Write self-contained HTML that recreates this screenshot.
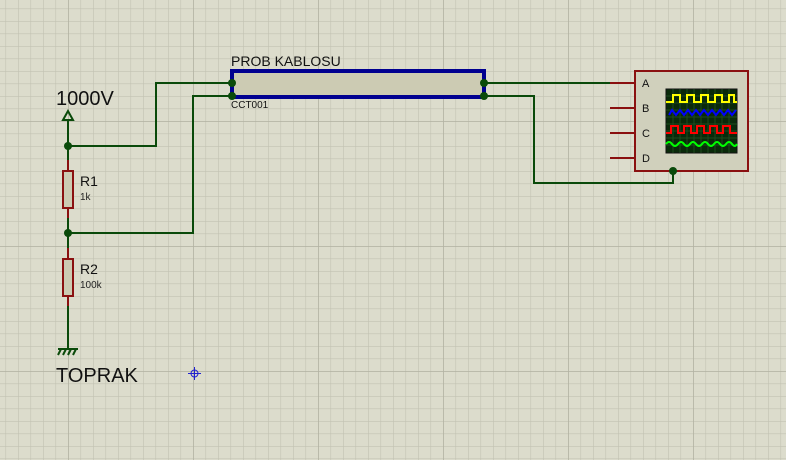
<!DOCTYPE html>
<html><head><meta charset="utf-8"><style>
html,body{margin:0;padding:0;width:786px;height:460px;overflow:hidden;background:#dcdccc}
svg{display:block}
text{font-family:"Liberation Sans",sans-serif}
</style></head><body>
<svg width="786" height="460" xmlns="http://www.w3.org/2000/svg">
<defs>
<pattern id="minor" x="5.5" y="-4" width="12.5" height="12.5" patternUnits="userSpaceOnUse">
<path d="M0 0V12.5M0 0H12.5" stroke="#c2c2b2" stroke-width="1.2" fill="none"/>
</pattern>
<pattern id="major" x="68" y="121" width="125" height="125" patternUnits="userSpaceOnUse">
<path d="M0 0V125M0 0H125" stroke="#b2b2a2" stroke-width="1.6" fill="none"/>
</pattern>
</defs>
<rect width="786" height="460" fill="url(#minor)"/>
<rect width="786" height="460" fill="url(#major)"/>

<g stroke="#0a4a0a" stroke-width="2" fill="none">
<path d="M68 120V171"/>
<path d="M68 146H156V83H232"/>
<path d="M68 208V259"/>
<path d="M68 233H193V96H232"/>
<path d="M68 296V348"/>
<path d="M484 83H612"/>
<path d="M484 96H534V183H673V171"/>
</g>
<path d="M68 111L63 120H73Z" fill="none" stroke="#0a4a0a" stroke-width="2"/>
<text x="56" y="105" font-size="20" fill="#111">1000V</text>
<g stroke="#8a1010" stroke-width="2">
<path d="M68 160V171M68 208V218M68 248V259M68 296V306"/>
</g>
<rect x="63" y="171" width="10" height="37" fill="#cccbb3" stroke="#8a1010" stroke-width="2"/>
<rect x="63" y="259" width="10" height="37" fill="#cccbb3" stroke="#8a1010" stroke-width="2"/>
<text x="80" y="186" font-size="14" fill="#111">R1</text>
<text x="80" y="200" font-size="10" fill="#222">1k</text>
<text x="80" y="274" font-size="14" fill="#111">R2</text>
<text x="80" y="288" font-size="10" fill="#222">100k</text>
<g stroke="#0a4a0a" stroke-width="2" fill="none">
<path d="M58 349H78"/>
<path d="M61 349L58 355M66 349L63 355M71 349L68 355M76 349L73 355"/>
</g>
<text x="56" y="382" font-size="20" fill="#111">TOPRAK</text>
<g stroke="#2020d0" stroke-width="1" fill="none">
<circle cx="194.5" cy="373.5" r="3.5"/>
<path d="M188 373.5H201M194.5 367V380"/>
</g>
<rect x="232" y="71" width="252" height="26" fill="#cccbb3" stroke="#000090" stroke-width="4"/>
<text x="231" y="66" font-size="14" fill="#111">PROB KABLOSU</text>
<text x="231" y="108" font-size="10" fill="#111">CCT001</text>
<g fill="#0a4a0a">
<circle cx="68" cy="146" r="4"/><circle cx="68" cy="233" r="4"/>
<circle cx="232" cy="83" r="4"/><circle cx="232" cy="96" r="4"/>
<circle cx="484" cy="83" r="4"/><circle cx="484" cy="96" r="4"/>
</g>
<g stroke="#8a1010" stroke-width="2">
<path d="M610 83H635M610 108H635M610 133H635M610 158H635"/>
</g>
<rect x="635" y="71" width="113" height="100" fill="#d0d0bc" stroke="#8a1010" stroke-width="2"/>
<circle cx="673" cy="171" r="4" fill="#0a4a0a"/>
<g font-size="11" fill="#111">
<text x="642" y="87">A</text><text x="642" y="112">B</text><text x="642" y="137">C</text><text x="642" y="162">D</text>
</g>
<rect x="666" y="89" width="71" height="64" fill="#0a2a0a" stroke="#111" stroke-width="1"/>
<g stroke="#1f4a1f" stroke-width="1">
<path d="M673 89V153M680 89V153M687 89V153M694 89V153M701 89V153M708 89V153M715 89V153M722 89V153M729 89V153"/>
<path d="M666 96H737M666 103H737M666 110H737M666 117H737M666 124H737M666 131H737M666 138H737M666 145H737"/>
</g>
<g fill="none" stroke-width="2">
<path d="M666 102H673V95H680V102H687V95H694V102H701V95H708V102H715V95H722V102H729V95H734V102H737" stroke="#ffff00"/>
<path d="M669 115L672 110L676 115L680 110L684 115L688 110L692 115L696 110L700 115L704 110L708 115L712 110L716 115L720 110L724 115L728 110L732 115L736 110" stroke="#0000ff"/>
<path d="M666 133H671V126H678V133H684V126H691V133H697V126H704V133H710V126H717V133H723V126H730V133H737" stroke="#ff0000"/>
<path d="M666 144Q669 140 672 144T678 144T684 144T690 144T696 144T702 144T708 144T714 144T720 144T726 144T732 144T737 144" stroke="#00ff00"/>
</g>
</svg>
</body></html>
